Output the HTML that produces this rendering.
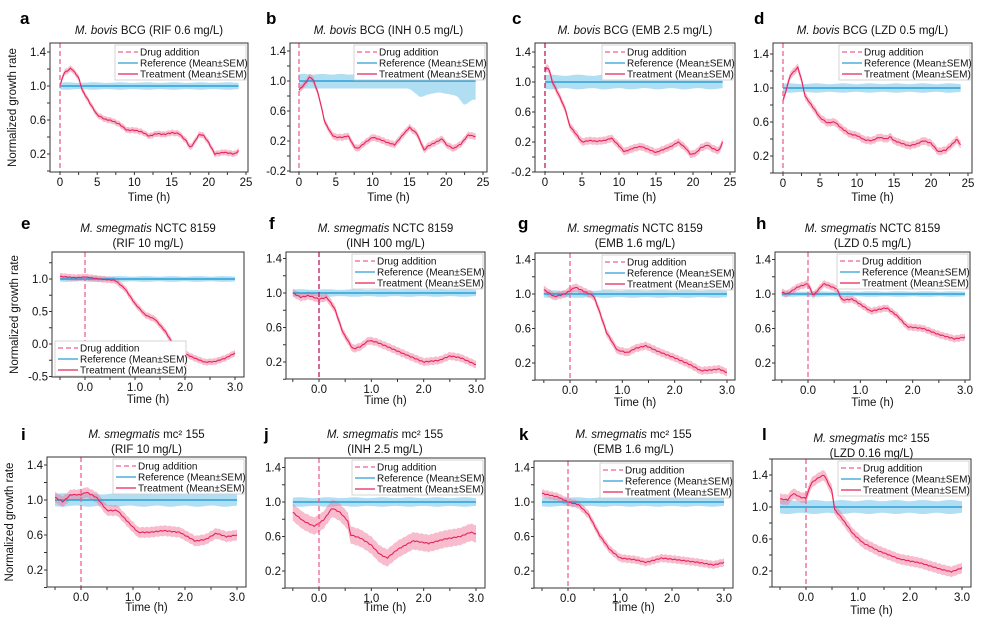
<!DOCTYPE html>
<html><head><meta charset="utf-8"><style>
body{margin:0;background:#fff;width:990px;height:622px;overflow:hidden}
svg{display:block;font-family:"Liberation Sans",Arial,sans-serif}
</style></head><body>
<svg id="s" width="990" height="622" xmlns="http://www.w3.org/2000/svg"></svg>
<script>
const S=document.getElementById('s');let out='';
const P=[
{L:'a',lx:20,ly:24,box:[50,43,248,172],xm:[0,60,25,246],ym:[1.0,86,0.2,154],xt:[0,5,10,15,20,25],xmn:2.5,xf:0,yt:[0.2,0.6,1.0,1.4],ylab:1,tt:['<tspan font-style="italic">M. bovis</tspan> BCG (RIF 0.6 mg/L)'],ty:34,xl:201,
 tr:[[0,1.0],[0.5,1.15],[1.5,1.21],[2.5,1.1],[3,0.95],[4,0.8],[5,0.66],[6,0.61],[7,0.59],[8,0.55],[9,0.48],[10,0.48],[11,0.46],[12,0.41],[13,0.44],[14,0.43],[15,0.45],[16,0.44],[17,0.35],[17.5,0.27],[18,0.33],[18.7,0.43],[19.3,0.42],[20,0.33],[20.8,0.2],[22,0.22],[23.5,0.2],[24,0.24]],tw:0.035,r:[0,24],rw:0.04},
{L:'b',lx:266,ly:24,box:[290,43,487,172],xm:[0,299,25,483],ym:[1.0,81,0.2,141],xt:[0,5,10,15,20,25],xmn:2.5,xf:0,yt:[-0.2,0.2,0.6,1.0,1.4],tt:['<tspan font-style="italic">M. bovis</tspan> BCG (INH 0.5 mg/L)'],ty:34,xl:201,
 tr:[[0,0.88],[0.7,0.95],[1.5,1.06],[2,1.0],[2.7,0.8],[3.5,0.45],[4.5,0.28],[5,0.25],[6,0.25],[6.7,0.27],[7.5,0.12],[8,0.1],[9,0.18],[10,0.25],[11,0.22],[12,0.18],[13,0.15],[14,0.27],[15,0.38],[16,0.3],[17,0.08],[17.5,0.13],[18.5,0.18],[19.5,0.23],[20,0.15],[21,0.1],[22,0.16],[23,0.28],[24,0.26]],tw:0.045,r:[0,24],rw:0.09,
 rlo:[[0,0.9],[15,0.9],[16.5,0.78],[17.5,0.82],[19,0.85],[21.5,0.8],[22.5,0.67],[23.5,0.75],[24,0.75]],rhi:1.09},
{L:'c',lx:512,ly:24,box:[535,43,735,172],xm:[0,545,25,730],ym:[1.0,82,0.2,142],xt:[0,5,10,15,20,25],xmn:2.5,xf:0,yt:[-0.2,0.2,0.6,1.0,1.4],tt:['<tspan font-style="italic">M. bovis</tspan> BCG (EMB 2.5 mg/L)'],ty:34,xl:201,dash:'#c2185b',
 tr:[[0,1.15],[0.3,1.2],[0.6,1.15],[1,1.0],[2,0.8],[2.8,0.62],[3.3,0.42],[4,0.33],[5,0.2],[6,0.22],[7,0.21],[8,0.22],[9,0.25],[10,0.15],[10.7,0.07],[11.5,0.1],[12,0.12],[13,0.14],[14,0.1],[15,0.06],[16,0.1],[17,0.14],[18,0.2],[19,0.12],[19.7,0.03],[20.5,0.06],[21,0.12],[22,0.16],[22.5,0.12],[23.5,0.08],[24,0.2]],tw:0.05,r:[0,24],rw:0.09},
{L:'d',lx:754,ly:24,box:[773,43,972,173],xm:[0,783,25,968],ym:[1.0,88,0.2,156],xt:[0,5,10,15,20,25],xmn:2.5,xf:0,yt:[0.2,0.6,1.0,1.4],tt:['<tspan font-style="italic">M. bovis</tspan> BCG (LZD 0.5 mg/L)'],ty:34,xl:201,
 tr:[[0,0.85],[0.5,1.0],[1,1.15],[2,1.24],[2.5,1.1],[3,0.9],[4,0.78],[5,0.65],[6,0.59],[7,0.6],[8,0.52],[9,0.46],[10,0.44],[11,0.39],[12,0.38],[13,0.42],[14,0.4],[14.5,0.43],[15,0.38],[16,0.35],[17,0.32],[18,0.34],[19,0.38],[20,0.35],[21,0.25],[22,0.27],[23,0.35],[23.5,0.4],[24,0.33]],tw:0.045,r:[0,24],rw:0.05},
{L:'e',lx:21,ly:229,box:[52,252,244,377],xm:[0,85,3,235],ym:[1.0,279,0,344],xt:[0,1,2,3],xmn:0.5,xs:-0.5,xf:1,yt:[-0.5,0,0.5,1.0],ylab:1,tt:['<tspan font-style="italic">M. smegmatis</tspan> NCTC 8159','(RIF 10 mg/L)'],ty:232,xl:403,leg:'bl',
 tr:[[-0.5,1.04],[-0.2,1.02],[0,1.03],[0.3,1.0],[0.6,0.98],[0.8,0.85],[1,0.62],[1.2,0.45],[1.4,0.38],[1.6,0.2],[1.8,-0.05],[2.0,-0.15],[2.2,-0.22],[2.4,-0.28],[2.6,-0.27],[2.8,-0.22],[3,-0.14]],tw:0.05,r:[-0.5,3],rw:0.04},
{L:'f',lx:269,ly:229,box:[286,252,485,379],xm:[0,319,3,476],ym:[1.0,293,0.2,362],xt:[0,1,2,3],xmn:0.5,xs:-0.5,xf:1,yt:[0.2,0.6,1.0,1.4],tt:['<tspan font-style="italic">M. smegmatis</tspan> NCTC 8159','(INH 100 mg/L)'],ty:232,xl:404,dash:'#c2185b',
 tr:[[-0.5,1.0],[-0.35,0.95],[-0.2,0.97],[0,0.93],[0.15,0.95],[0.3,0.82],[0.45,0.55],[0.65,0.35],[0.8,0.38],[0.95,0.45],[1.1,0.43],[1.3,0.38],[1.6,0.3],[2.0,0.2],[2.3,0.22],[2.5,0.27],[2.7,0.25],[3,0.17]],tw:0.045,r:[-0.5,3],rw:0.04},
{L:'g',lx:518,ly:229,box:[535,253,735,380],xm:[0,570,3,727],ym:[1.0,294,0.2,363],xt:[0,1,2,3],xmn:0.5,xs:-0.5,xf:1,yt:[0.2,0.6,1.0,1.4],tt:['<tspan font-style="italic">M. smegmatis</tspan> NCTC 8159','(EMB 1.6 mg/L)'],ty:232,xl:406,
 tr:[[-0.5,1.05],[-0.3,0.97],[-0.1,1.0],[0.1,1.08],[0.3,1.02],[0.45,0.98],[0.55,0.82],[0.7,0.55],[0.9,0.35],[1.1,0.32],[1.25,0.37],[1.45,0.4],[1.7,0.33],[2.0,0.26],[2.3,0.18],[2.5,0.11],[2.7,0.12],[2.85,0.13],[3,0.09]],tw:0.045,r:[-0.5,3],rw:0.04},
{L:'h',lx:756,ly:229,box:[775,252,970,380],xm:[0,808,3,965],ym:[1.0,294,0.2,363],xt:[0,1,2,3],xmn:0.5,xs:-0.5,xf:1,yt:[0.2,0.6,1.0,1.4],tt:['<tspan font-style="italic">M. smegmatis</tspan> NCTC 8159','(LZD 0.5 mg/L)'],ty:232,xl:406,
 tr:[[-0.5,1.02],[-0.4,1.0],[-0.2,1.08],[0,1.12],[0.1,0.98],[0.3,1.12],[0.55,1.06],[0.65,0.93],[0.85,0.94],[1.0,0.88],[1.2,0.8],[1.35,0.82],[1.5,0.84],[1.7,0.75],[1.9,0.62],[2.2,0.6],[2.5,0.53],[2.8,0.48],[3,0.5]],tw:0.04,r:[-0.5,3],rw:0.03},
{L:'i',lx:21,ly:440,box:[47,457,246,587],xm:[0,81,3,237],ym:[1.0,500,0.2,570],xt:[0,1,2,3],xmn:0.5,xs:-0.5,xf:1,yt:[0.2,0.6,1.0,1.4],ylab:1,tt:['<tspan font-style="italic">M. smegmatis</tspan> mc² 155','(RIF 10 mg/L)'],ty:438,xl:611,
 tr:[[-0.5,1.03],[-0.35,0.98],[-0.2,1.06],[0,1.06],[0.1,1.09],[0.3,1.03],[0.5,0.88],[0.7,0.88],[0.9,0.75],[1.1,0.63],[1.3,0.63],[1.6,0.65],[1.9,0.63],[2.2,0.53],[2.4,0.55],[2.6,0.62],[2.8,0.58],[3,0.6]],tw:0.06,r:[-0.5,3],rw:0.07},
{L:'j',lx:264,ly:440,box:[285,458,485,588],xm:[0,319,3,476],ym:[1.0,502,0.2,571],xt:[0,1,2,3],xmn:0.5,xs:-0.5,xf:1,yt:[0.2,0.6,1.0,1.4],tt:['<tspan font-style="italic">M. smegmatis</tspan> mc² 155','(INH 2.5 mg/L)'],ty:438,xl:611,
 tr:[[-0.5,0.88],[-0.3,0.78],[-0.1,0.72],[0,0.75],[0.1,0.8],[0.25,0.93],[0.4,0.88],[0.55,0.78],[0.6,0.62],[0.8,0.58],[1.0,0.5],[1.15,0.4],[1.3,0.35],[1.5,0.45],[1.8,0.55],[2.1,0.52],[2.4,0.57],[2.7,0.6],[2.9,0.65],[3,0.63]],tw:0.1,r:[-0.5,3],rw:0.05},
{L:'k',lx:519,ly:440,box:[534,461,733,588],xm:[0,568,3,724],ym:[1.0,502,0.2,571],xt:[0,1,2,3],xmn:0.5,xs:-0.5,xf:1,yt:[0.2,0.6,1.0,1.4],tt:['<tspan font-style="italic">M. smegmatis</tspan> mc² 155','(EMB 1.6 mg/L)'],ty:438,xl:611,
 tr:[[-0.5,1.1],[-0.2,1.06],[0,1.0],[0.2,0.97],[0.4,0.85],[0.6,0.62],[0.8,0.45],[1.0,0.35],[1.3,0.33],[1.5,0.3],[1.8,0.35],[2.1,0.33],[2.5,0.3],[2.8,0.27],[3,0.3]],tw:0.045,r:[-0.5,3],rw:0.05},
{L:'l',lx:762,ly:440,box:[772,459,971,587],xm:[0,806,3,962],ym:[1.0,507,0.2,571],xt:[0,1,2,3],xmn:0.5,xs:-0.5,xf:1,yt:[0.2,0.6,1.0,1.4],tt:['<tspan font-style="italic">M. smegmatis</tspan> mc² 155','(LZD 0.16 mg/L)'],ty:442,xl:614,
 tr:[[-0.5,1.1],[-0.35,1.09],[-0.25,1.17],[-0.1,1.12],[0,1.11],[0.1,1.3],[0.25,1.37],[0.35,1.4],[0.5,1.2],[0.55,0.97],[0.7,0.85],[0.9,0.67],[1.1,0.55],[1.4,0.45],[1.8,0.35],[2.2,0.3],[2.6,0.22],[2.8,0.19],[3,0.24]],tw:0.065,r:[-0.5,3],rw:0.08}
];
function interp(arr,t){for(let i=0;i<arr.length-1;i++){if(t<=arr[i+1][0]){const f=(t-arr[i][0])/(arr[i+1][0]-arr[i][0]);return arr[i][1]+f*(arr[i+1][1]-arr[i][1]);}}return arr[arr.length-1][1];}
let cid=0;
P.forEach(p=>{
 const [x0,y0,x1,y1]=p.box;
 const X=t=>p.xm[1]+(t-p.xm[0])*(p.xm[3]-p.xm[1])/(p.xm[2]-p.xm[0]);
 const Y=v=>p.ym[1]+(v-p.ym[0])*(p.ym[3]-p.ym[1])/(p.ym[2]-p.ym[0]);
 cid++;out+=`<clipPath id="c${cid}"><rect x="${x0}" y="${y0}" width="${x1-x0}" height="${y1-y0}"/></clipPath><g clip-path="url(#c${cid})">`;
 const N=60,[r0,r1]=p.r;let up=[],lo=[];
 for(let i=0;i<=N;i++){const t=r0+(r1-r0)*i/N;const w=p.rw*(1+0.1*Math.sin(i*0.7));
  const hi=p.rhi!==undefined?p.rhi+0.005*Math.sin(i):1+w; const l=p.rlo?interp(p.rlo,t):1-w;
  up.push(X(t).toFixed(1)+','+Y(hi).toFixed(1));lo.unshift(X(t).toFixed(1)+','+Y(l).toFixed(1));}
 out+=`<polygon points="${up.join(' ')} ${lo.join(' ')}" fill="#8fd0ee" fill-opacity="0.7"/>`;
 const t0=p.tr[0][0],t1=p.tr[p.tr.length-1][0],M=120;up=[];lo=[];let ln=[];
 for(let i=0;i<=M;i++){const t=t0+(t1-t0)*i/M;const v=interp(p.tr,t)+0.006*Math.sin(i*2.1);
  up.push(X(t).toFixed(1)+','+Y(v+p.tw).toFixed(1));lo.unshift(X(t).toFixed(1)+','+Y(v-p.tw).toFixed(1));ln.push(X(t).toFixed(1)+','+Y(v).toFixed(1));}
 out+=`<polygon points="${up.join(' ')} ${lo.join(' ')}" fill="#f07a9c" fill-opacity="0.5"/>`;
 out+=`<line x1="${X(r0)}" y1="${Y(1)}" x2="${X(r1)}" y2="${Y(1)}" stroke="#2b9fd8" stroke-width="1.5"/>`;
 out+=`<polyline points="${ln.join(' ')}" fill="none" stroke="#e8245a" stroke-width="1.1"/>`;
 out+=`<line x1="${X(0)}" y1="${y0}" x2="${X(0)}" y2="${y1}" stroke="${p.dash||'#f06292'}" stroke-width="1.3" stroke-dasharray="5,3"/>`;
 out+='</g>';
 out+=`<rect x="${x0}" y="${y0}" width="${x1-x0}" height="${y1-y0}" fill="none" stroke="#333" stroke-width="1"/>`;
 const xs=p.xs!==undefined?p.xs:0;
 for(let t=xs;t<=p.xt[p.xt.length-1]+1e-6;t+=p.xmn){const x=X(t);out+=`<line x1="${x}" y1="${y1}" x2="${x}" y2="${y1+3}" stroke="#333"/>`;}
 p.xt.forEach(t=>{out+=`<text x="${X(t)}" y="${y1+14}" font-size="11.5" text-anchor="middle" fill="#111">${p.xf?t.toFixed(1):t}</text>`;});
 out+=`<text x="${(x0+x1)/2}" y="${p.xl}" font-size="11.5" text-anchor="middle" fill="#111">Time (h)</text>`;
 const ys=p.yt[1]-p.yt[0];
 for(let v=p.yt[0]-ys/2;v<=p.yt[p.yt.length-1]+ys/2+1e-6;v+=ys/2){const y=Y(v);if(y<y0-0.5||y>y1+0.5)continue;out+=`<line x1="${x0-3}" y1="${y}" x2="${x0}" y2="${y}" stroke="#333"/>`;}
 p.yt.forEach(v=>{out+=`<text x="${x0-4}" y="${Y(v)+4}" font-size="11.5" text-anchor="end" fill="#111">${v.toFixed(1)}</text>`;});
 if(p.ylab)out+=`<text transform="translate(${x0-34},${(y0+y1)/2}) rotate(-90)" font-size="11.5" text-anchor="middle" fill="#111">Normalized growth rate</text>`;
 p.tt.forEach((s,i)=>{out+=`<text x="${(x0+x1)/2}" y="${p.ty+i*15}" font-size="11.5" text-anchor="middle" fill="#111">${s}</text>`;});
 out+=`<text x="${p.lx}" y="${p.ly}" font-size="17" font-weight="bold" fill="#000">${p.L}</text>`;
 let lx,ly;if(p.leg==='bl'){lx=x0+3;ly=y1-36;}else{lx=x1-133;ly=y0+2;}
 out+=`<rect x="${lx}" y="${ly}" width="131" height="35" fill="#fff" stroke="#ccc" stroke-width="0.8"/>`;
 const items=[['Drug addition','#f06292','5,3'],['Reference (Mean±SEM)','#2b9fd8',''],['Treatment (Mean±SEM)','#e8245a','']];
 items.forEach((it,i)=>{const yy=ly+7+i*11;out+=`<line x1="${lx+3}" y1="${yy}" x2="${lx+23}" y2="${yy}" stroke="${it[1]}" stroke-width="1.3" ${it[2]?'stroke-dasharray="'+it[2]+'"':''}/><text x="${lx+25}" y="${yy+3.5}" font-size="10" fill="#111">${it[0]}</text>`;});
});
S.innerHTML=out;
</script>
</body></html>
